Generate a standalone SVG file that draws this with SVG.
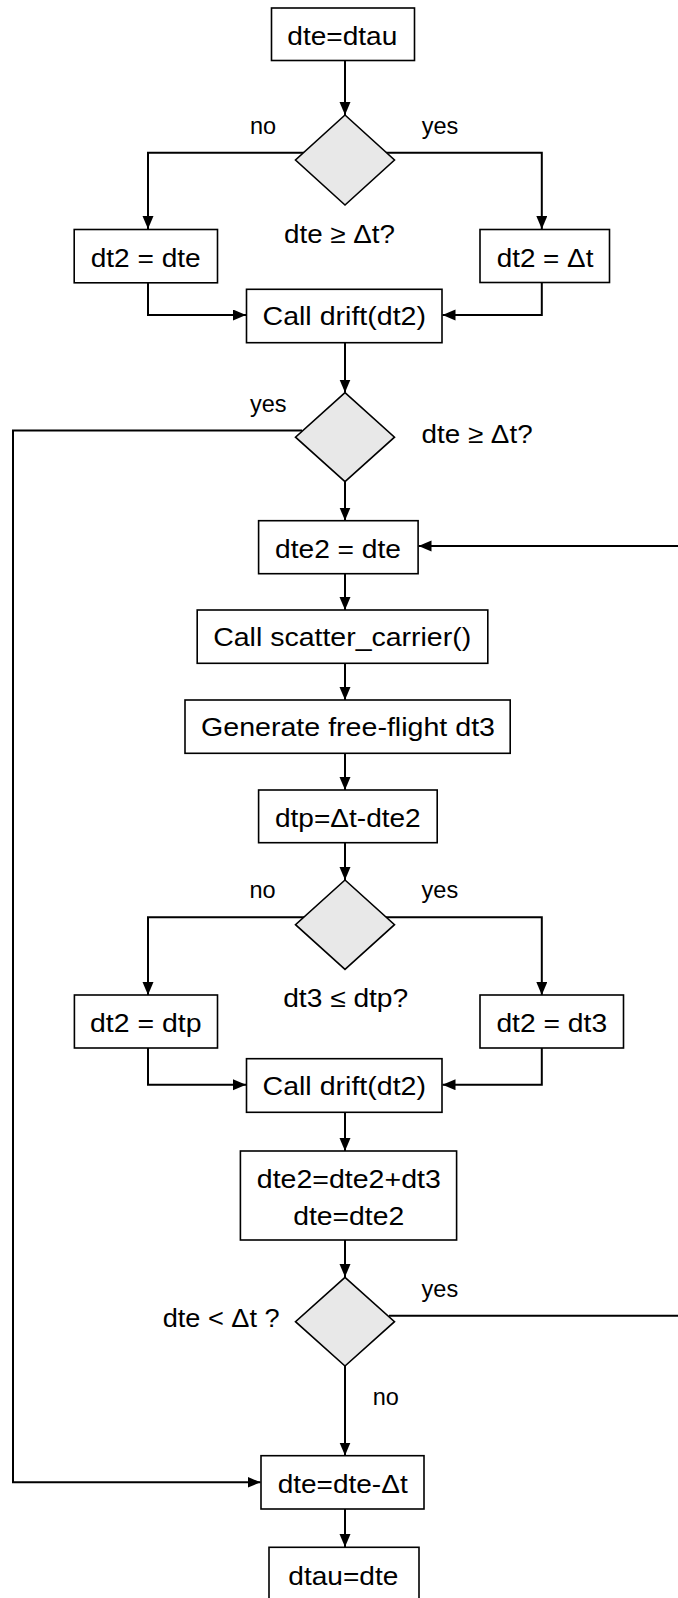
<svg xmlns="http://www.w3.org/2000/svg" width="678" height="1598" viewBox="0 0 678 1598">
<style>
.box{fill:#ffffff;stroke:#000;stroke-width:1.6}
.dia{fill:#e8e8e8;stroke:#000;stroke-width:1.6}
.con{fill:none;stroke:#000;stroke-width:2}
.t{font-family:"Liberation Sans",Arial,sans-serif;font-size:26px;fill:#000}
.l{font-family:"Liberation Sans",Arial,sans-serif;font-size:23.5px;fill:#000}
</style>
<defs>
<marker id="ah" markerUnits="userSpaceOnUse" markerWidth="14" markerHeight="12" refX="13" refY="5.5" orient="auto">
<path d="M0,0 L13,5.5 L0,11 z" fill="#000"/>
</marker>
</defs>
<rect width="678" height="1598" fill="#fff"/>
<g id="connectors">
<path class="con" d="M345,60 V115" marker-end="url(#ah)"/>
<path class="con" d="M304,152.7 H148 V229" marker-end="url(#ah)"/>
<path class="con" d="M386,152.7 H541.8 V229" marker-end="url(#ah)"/>
<path class="con" d="M148,283 V315 H246" marker-end="url(#ah)"/>
<path class="con" d="M541.8,283 V315 H442.5" marker-end="url(#ah)"/>
<path class="con" d="M345,343 V392.5" marker-end="url(#ah)"/>
<path class="con" d="M302,430.5 H13 V1482.3 H260.5" marker-end="url(#ah)"/>
<path class="con" d="M345,482 V520.5" marker-end="url(#ah)"/>
<path class="con" d="M680,546 H418.5" marker-end="url(#ah)"/>
<path class="con" d="M345,574 V610" marker-end="url(#ah)"/>
<path class="con" d="M345,663.5 V700" marker-end="url(#ah)"/>
<path class="con" d="M345,753.5 V790" marker-end="url(#ah)"/>
<path class="con" d="M345,843 V880" marker-end="url(#ah)"/>
<path class="con" d="M304,917.3 H148 V995" marker-end="url(#ah)"/>
<path class="con" d="M386,917.3 H541.8 V995" marker-end="url(#ah)"/>
<path class="con" d="M148,1048 V1084.7 H246" marker-end="url(#ah)"/>
<path class="con" d="M541.8,1048 V1084.7 H442.5" marker-end="url(#ah)"/>
<path class="con" d="M345,1112.5 V1151" marker-end="url(#ah)"/>
<path class="con" d="M345,1240 V1277" marker-end="url(#ah)"/>
<path class="con" d="M389,1315.7 H680"/>
<path class="con" d="M345,1366 V1455.5" marker-end="url(#ah)"/>
<path class="con" d="M345,1509 V1547" marker-end="url(#ah)"/>
</g>
<g id="n1"><rect class="box" x="271.5" y="8" width="143" height="52.5"/><text class="t" x="287.3" y="45" textLength="110" lengthAdjust="spacingAndGlyphs">dte=dtau</text></g>
<g id="d1"><polygon class="dia" points="345,115 394.5,160 345,205 295.5,160"/><text class="t" x="284" y="242.5" textLength="111" lengthAdjust="spacingAndGlyphs">dte ≥ Δt?</text><text class="l" x="250" y="134.3">no</text><text class="l" x="421.7" y="134.3">yes</text></g>
<g id="n2"><rect class="box" x="74.2" y="229.5" width="143.3" height="53.3"/><text class="t" x="90.7" y="266.7" textLength="110" lengthAdjust="spacingAndGlyphs">dt2 = dte</text></g>
<g id="n3"><rect class="box" x="480" y="229.5" width="129.5" height="53"/><text class="t" x="496.7" y="266.7" textLength="96.7" lengthAdjust="spacingAndGlyphs">dt2 = Δt</text></g>
<g id="n4"><rect class="box" x="246.5" y="289.3" width="195.5" height="53.4"/><text class="t" x="262.5" y="324.8" textLength="163.5" lengthAdjust="spacingAndGlyphs">Call drift(dt2)</text></g>
<g id="d2"><polygon class="dia" points="345,392.7 394.5,437.2 345,481.7 295.5,437.2"/><text class="t" x="421.6" y="442.7" textLength="111" lengthAdjust="spacingAndGlyphs">dte ≥ Δt?</text><text class="l" x="250" y="412.3">yes</text></g>
<g id="n5"><rect class="box" x="258.6" y="520.7" width="159.5" height="53"/><text class="t" x="275" y="557.7" textLength="126" lengthAdjust="spacingAndGlyphs">dte2 = dte</text></g>
<g id="n6"><rect class="box" x="197.2" y="610" width="290.6" height="53.3"/><text class="t" x="213.2" y="645.5" textLength="258" lengthAdjust="spacingAndGlyphs">Call scatter_carrier()</text></g>
<g id="n7"><rect class="box" x="185" y="700" width="325.2" height="53.3"/><text class="t" x="201" y="736" textLength="294" lengthAdjust="spacingAndGlyphs">Generate free-flight dt3</text></g>
<g id="n8"><rect class="box" x="258.6" y="790" width="178.6" height="52.7"/><text class="t" x="275" y="826.5" textLength="145.7" lengthAdjust="spacingAndGlyphs">dtp=Δt-dte2</text></g>
<g id="d3"><polygon class="dia" points="345,880 394.5,924.7 345,969.3 295.5,924.7"/><text class="t" x="283.2" y="1007" textLength="125" lengthAdjust="spacingAndGlyphs">dt3 ≤ dtp?</text><text class="l" x="249.5" y="898.3">no</text><text class="l" x="421.6" y="898.3">yes</text></g>
<g id="n9"><rect class="box" x="74.4" y="995" width="143.1" height="53"/><text class="t" x="90" y="1031.7" textLength="111.5" lengthAdjust="spacingAndGlyphs">dt2 = dtp</text></g>
<g id="n10"><rect class="box" x="480" y="995" width="143.5" height="53"/><text class="t" x="496.4" y="1031.7" textLength="110.7" lengthAdjust="spacingAndGlyphs">dt2 = dt3</text></g>
<g id="n11"><rect class="box" x="246.5" y="1058.7" width="195.5" height="53.6"/><text class="t" x="262.5" y="1095" textLength="163.5" lengthAdjust="spacingAndGlyphs">Call drift(dt2)</text></g>
<g id="n12"><rect class="box" x="240.4" y="1151" width="216.2" height="89"/><text class="t" x="256.8" y="1188.3" textLength="184" lengthAdjust="spacingAndGlyphs">dte2=dte2+dt3</text><text class="t" x="293.2" y="1225" textLength="111" lengthAdjust="spacingAndGlyphs">dte=dte2</text></g>
<g id="d4"><polygon class="dia" points="345,1277.3 394.5,1321.7 345,1366 295.5,1321.7"/><text class="t" x="162.7" y="1326.7" textLength="117" lengthAdjust="spacingAndGlyphs">dte &lt; Δt ?</text><text class="l" x="421.6" y="1296.7">yes</text><text class="l" x="372.7" y="1405">no</text></g>
<g id="n13"><rect class="box" x="261" y="1455.7" width="163" height="53.3"/><text class="t" x="277.7" y="1493.3" textLength="130" lengthAdjust="spacingAndGlyphs">dte=dte-Δt</text></g>
<g id="n14"><rect class="box" x="269" y="1547.3" width="150" height="53"/><text class="t" x="288.3" y="1585" textLength="110" lengthAdjust="spacingAndGlyphs">dtau=dte</text></g>
</svg>
